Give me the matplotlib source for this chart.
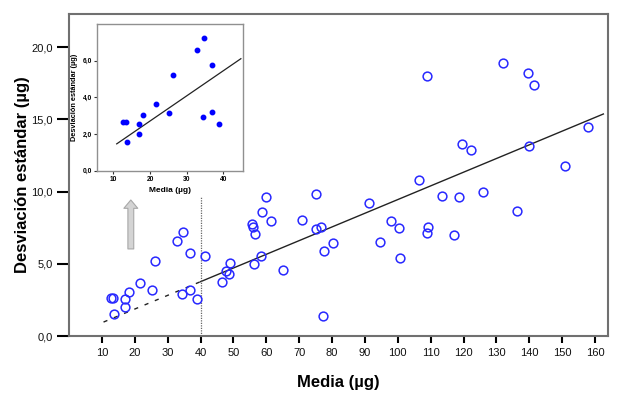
import numpy as np
import matplotlib
matplotlib.use("Agg")
import matplotlib.pyplot as plt

plt.rcParams['font.family'] = ['Liberation Sans', 'DejaVu Sans']

# ---- data ----
media = [12.7, 13.4, 13.7, 17.1, 17.1, 18.1, 21.6, 25.2, 26.3, 32.7, 34.8, 34.4, 36.9, 36.9, 38.9,
         41.3, 46.4, 47.8, 48.6, 49.0, 56.3, 58.5, 65.2, 55.6, 55.9, 56.7, 61.5, 60.0, 58.7,
         71.0, 75.1, 75.1, 76.5, 77.5, 77.1, 80.2, 91.1, 94.6, 97.9, 100.4, 100.7, 106.5,
         108.9, 109.3, 108.9, 113.3, 117.1, 118.5, 119.5, 122.3, 125.9, 132.1, 136.1, 139.7,
         141.4, 140.0, 150.9, 157.7]
desv = [2.65, 2.65, 1.55, 2.56, 2.01, 3.03, 3.65, 3.17, 5.20, 6.58, 7.21, 2.93, 3.19, 5.75, 2.54,
        5.52, 3.72, 4.53, 4.32, 5.06, 4.97, 5.52, 4.57, 7.74, 7.53, 7.07, 7.95, 9.65, 8.57,
        8.02, 9.82, 7.39, 7.53, 5.89, 1.39, 6.47, 9.20, 6.53, 7.95, 7.46, 5.43, 10.81,
        18.04, 7.55, 7.14, 9.72, 7.00, 9.65, 13.31, 12.91, 9.96, 18.92, 8.64, 18.23,
        17.35, 13.15, 11.76, 14.48]

# regression line (main): intercept, slope; ranges
fit_main = (-0.03, 0.0948)
fit_dashed_range = (10.5, 40.0)
fit_solid_range = (40.0, 162.5)
# regression line (inset)
fit_inset = (-0.03, 0.137)
fit_inset_range = (10.9, 44.8)
cut_x = 40.0
cut_top = 9.63

xticks = list(range(10, 170, 10))
yticks = [0, 5, 10, 15, 20]
inset_xticks = [10, 20, 30, 40]
inset_yticks = [0, 2, 4, 6]

media = np.array(media)
desv = np.array(desv)

fig = plt.figure(figsize=(6.24, 3.97), dpi=100)
ax = fig.add_axes([69/624, 1-336/397, (608.3-69)/624, (336-14)/397])

ax.plot(media, desv, 'o', ms=6.3, mfc='none', mec='#2828ff', mew=1.1, zorder=3)

xs = np.array(fit_dashed_range)
ax.plot(xs, fit_main[0] + fit_main[1]*xs, color='#222222', lw=1.0, dashes=(3, 5))
xs = np.array(fit_solid_range)
ax.plot(xs, fit_main[0] + fit_main[1]*xs, color='#222222', lw=1.0)
ax.plot([cut_x, cut_x], [0, cut_top], color='#666666', lw=0.9, ls=(0, (1, 1)))

ax.annotate('', xy=(18.8, 9.42), xytext=(18.8, 6.03),
            arrowprops=dict(arrowstyle='simple,head_length=0.6,head_width=1.0,tail_width=0.42',
                            fc='#d4d4d4', ec='#a8a8a8', lw=0.8, shrinkA=0, shrinkB=0))

ax.set_xlim(0, 164)
ax.set_ylim(0, 22.3)
ax.set_xticks(xticks)
ax.set_xticklabels([str(t) for t in xticks])
ax.set_yticks(yticks)
ax.set_yticklabels([f"{t:.1f}".replace('.', ',') for t in yticks])
ax.tick_params(axis='x', length=5, width=1.5, pad=4, labelsize=8, color='black', labelcolor='#111111')
ax.tick_params(axis='y', length=8.5, width=1.5, pad=3, labelsize=8, color='black', labelcolor='#111111')
for s in ax.spines.values():
    s.set_color('#707070')
    s.set_linewidth(1.5)
ax.set_xlabel('Media (µg)', fontsize=12, fontweight='bold', labelpad=12)
ax.set_ylabel('Desviación estándar (µg)', fontsize=12, fontweight='bold', labelpad=1)

# ---- inset ----
ins = fig.add_axes([97.3/624, 1-170.7/397, (242.7-97.3)/624, (170.7-24)/397])
mask = media < cut_x
ins.plot(media[mask], desv[mask], 'o', ms=3.2, color='#0000ff', mec='#0000ff', zorder=3)
xs = np.array(fit_inset_range)
ins.plot(xs, fit_inset[0] + fit_inset[1]*xs, color='#222222', lw=0.9)
ins.set_xlim(5.6, 45.3)
ins.set_ylim(0, 8.0)
ins.set_xticks(inset_xticks)
ins.set_xticklabels([str(t) for t in inset_xticks])
ins.set_yticks(inset_yticks)
ins.set_yticklabels([f"{t:.1f}".replace('.', ',') for t in inset_yticks])
ins.tick_params(length=2, width=0.8, pad=2, labelsize=4.8, color='#333333')
for t in ins.get_xticklabels() + ins.get_yticklabels():
    t.set_fontweight('bold')
for s in ins.spines.values():
    s.set_color('#909090')
    s.set_linewidth(1.0)
ins.set_xlabel('Media (µg)', fontsize=6, fontweight='bold', labelpad=3)
ins.set_ylabel('Desviación estándar (µg)', fontsize=5.3, fontweight='bold', labelpad=3)

fig.savefig('out.png', dpi=100)
